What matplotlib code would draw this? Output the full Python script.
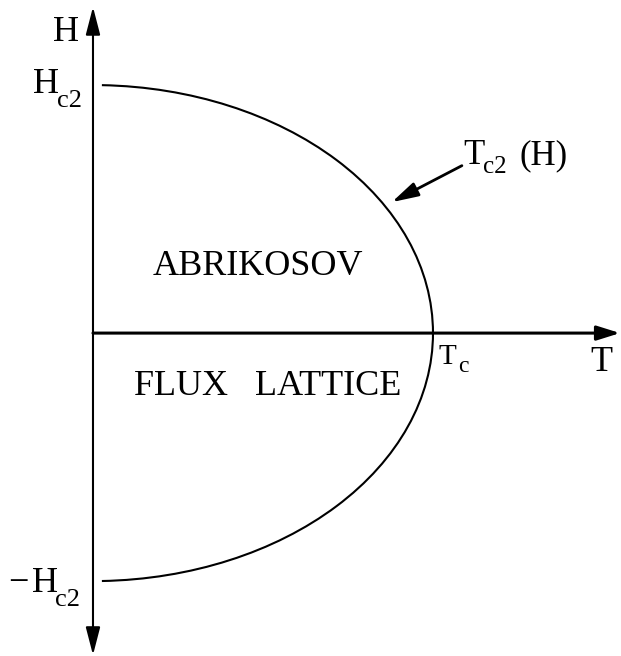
import matplotlib
matplotlib.use('Agg')
import matplotlib.pyplot as plt
from matplotlib.patches import Arc

plt.rcParams['font.family'] = 'Liberation Serif'

# phase boundary, reduced units
Tc = 1.0
Hc2 = 1.0
arc_span = (-88.5, 88.5)   # degrees of the boundary drawn on each side of T axis
region_labels = ['ABRIKOSOV', 'FLUX   LATTICE']

fig = plt.figure(figsize=(6.21, 6.56), dpi=100)
ax = fig.add_axes([0, 0, 1, 1])
ax.set_xlim(-0.2735, 1.553)
ax.set_ylim(-1.302, 1.343)
ax.axis('off')

lw = 1.5
head = dict(arrowstyle='-|>,head_length=0.85,head_width=0.22', color='black',
            lw=lw, shrinkA=0, shrinkB=0, mutation_scale=20)

# axes with arrow heads
ax.annotate('', xy=(0, 1.315), xytext=(0, 0), arrowprops=head)
ax.annotate('', xy=(0, -1.298), xytext=(0, 0), arrowprops=head)
ax.annotate('', xy=(1.55, 0), xytext=(0, 0),
            arrowprops=dict(head, arrowstyle='-|>,head_length=0.7,head_width=0.22', lw=2.2))

# Tc2(H) boundary
ax.add_patch(Arc((0, 0), 2 * Tc, 2 * Hc2, theta1=arc_span[0], theta2=arc_span[1],
                 color='black', lw=lw))


def label(x, y, s, size, ha='left'):
    ax.text(x, y, s, fontsize=size, ha=ha, va='baseline')


fs = 26
label(-0.078, 1.177, 'H', fs, ha='center')
label(-0.176, 0.968, 'H', fs)
label(-0.106, 0.911, 'c2', 19)
label(-0.250, -1.044, '\u2212', fs)
label(-0.180, -1.044, 'H', fs)
label(-0.112, -1.101, 'c2', 19)
label(1.494, -0.153, 'T', fs, ha='center')
label(1.015, -0.125, 'T', 21)
label(1.074, -0.157, 'c', 17)
label(0.484, 0.234, region_labels[0], fs, ha='center')
label(0.513, -0.25, region_labels[1], fs, ha='center')
label(1.088, 0.681, 'T', 25)
label(1.147, 0.645, 'c2', 18)
label(1.255, 0.681, '(H)', 25)

ax.annotate('', xy=(0.879, 0.528), xytext=(1.085, 0.675),
            arrowprops=dict(head, arrowstyle='-|>,head_length=0.8,head_width=0.22', lw=2.0))

fig.savefig('out.png', dpi=100)
